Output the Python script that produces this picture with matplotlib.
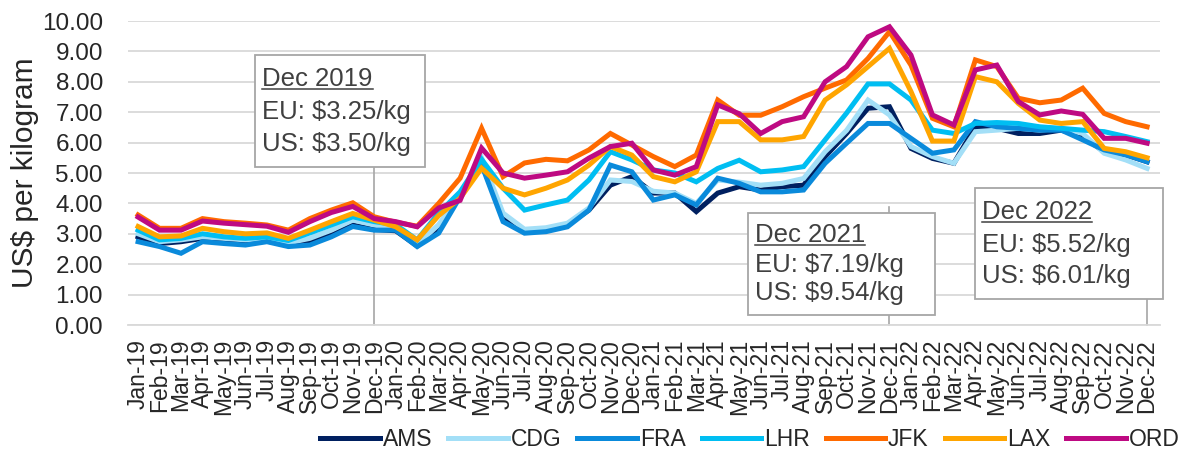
import numpy as np
import matplotlib
matplotlib.use("Agg")
import matplotlib.pyplot as plt
from matplotlib.lines import Line2D
from matplotlib.patches import Rectangle

plt.rcParams['font.family'] = ['Liberation Sans', 'DejaVu Sans']

# --- Data (US$ per kilogram, monthly Jan-19 .. Dec-22) ---
months = [f"{m}-{y}" for y in ["19", "20", "21", "22"]
          for m in ["Jan", "Feb", "Mar", "Apr", "May", "Jun",
                    "Jul", "Aug", "Sep", "Oct", "Nov", "Dec"]]

ams = [2.90, 2.68, 2.74, 2.85, 2.81, 2.74, 2.76, 2.63, 2.74, 2.96, 3.29, 3.14,
       3.10, 2.60, 3.20, 4.30, 5.30, 3.56, 3.07, 3.10, 3.29, 3.78, 4.60, 4.88,
       4.34, 4.34, 3.73, 4.34, 4.55, 4.44, 4.55, 4.60, 5.54, 6.30, 7.13, 7.18,
       5.81, 5.48, 5.32, 6.52, 6.47, 6.30, 6.30, 6.41, 6.20, 5.70, 5.60, 5.37]
cdg = [3.00, 2.74, 2.80, 2.90, 2.85, 2.80, 2.85, 2.70, 2.85, 3.12, 3.45, 3.29,
       3.15, 2.65, 3.30, 4.30, 5.50, 3.68, 3.15, 3.20, 3.35, 3.85, 4.77, 4.72,
       4.40, 4.34, 4.00, 4.77, 4.70, 4.60, 4.66, 4.82, 5.70, 6.40, 7.40, 6.91,
       5.87, 5.54, 5.32, 6.36, 6.41, 6.47, 6.41, 6.47, 6.30, 5.65, 5.43, 5.15]
fra = [2.74, 2.58, 2.36, 2.74, 2.68, 2.63, 2.74, 2.58, 2.63, 2.90, 3.24, 3.12,
       3.12, 2.58, 3.02, 4.22, 5.27, 3.40, 3.02, 3.07, 3.23, 3.78, 5.26, 5.04,
       4.11, 4.28, 3.95, 4.83, 4.66, 4.38, 4.38, 4.44, 5.32, 5.98, 6.63, 6.63,
       6.14, 5.65, 5.76, 6.69, 6.52, 6.47, 6.41, 6.41, 6.09, 5.76, 5.60, 5.37]
lhr = [3.12, 2.80, 2.85, 3.00, 2.90, 2.85, 2.90, 2.78, 3.03, 3.29, 3.56, 3.40,
       3.30, 2.80, 3.68, 4.38, 5.45, 4.50, 3.78, 3.95, 4.11, 4.77, 5.70, 5.43,
       5.10, 5.00, 4.71, 5.15, 5.42, 5.04, 5.10, 5.21, 6.09, 6.97, 7.93, 7.93,
       7.40, 6.41, 6.30, 6.63, 6.66, 6.63, 6.52, 6.47, 6.41, 6.36, 6.20, 6.03]
jfk = [3.62, 3.18, 3.18, 3.50, 3.40, 3.35, 3.29, 3.12, 3.50, 3.78, 4.02, 3.56,
       3.38, 3.25, 4.00, 4.83, 6.47, 4.88, 5.33, 5.45, 5.40, 5.76, 6.30, 5.92,
       5.54, 5.21, 5.59, 7.40, 6.90, 6.90, 7.18, 7.51, 7.79, 8.06, 8.77, 9.65,
       8.55, 6.80, 6.52, 8.72, 8.50, 7.46, 7.31, 7.40, 7.79, 6.96, 6.69, 6.52]
lax = [3.24, 2.90, 2.93, 3.18, 3.07, 3.00, 3.03, 2.85, 3.12, 3.40, 3.67, 3.45,
       3.23, 2.80, 3.60, 4.17, 5.16, 4.50, 4.28, 4.50, 4.77, 5.26, 5.87, 5.59,
       4.88, 4.71, 5.04, 6.69, 6.69, 6.09, 6.09, 6.20, 7.40, 7.90, 8.50, 9.10,
       7.68, 6.05, 6.05, 8.17, 8.00, 7.29, 6.74, 6.63, 6.69, 5.81, 5.70, 5.50]
ord_ = [3.55, 3.12, 3.12, 3.42, 3.35, 3.30, 3.25, 3.05, 3.40, 3.70, 3.90, 3.50,
        3.40, 3.23, 3.85, 4.10, 5.82, 5.00, 4.83, 4.93, 5.04, 5.49, 5.87, 5.98,
        5.10, 4.93, 5.21, 7.24, 6.95, 6.30, 6.69, 6.85, 8.00, 8.50, 9.48, 9.81,
        8.88, 6.91, 6.58, 8.39, 8.55, 7.35, 6.91, 7.04, 6.93, 6.14, 6.14, 5.98]

series_names = ["AMS", "CDG", "FRA", "LHR", "JFK", "LAX", "ORD"]
series_values = [ams, cdg, fra, lhr, jfk, lax, ord_]
series_colors = ["#002060", "#A3DFF7", "#0A8ADB", "#00BEF2",
                 "#FF6A00", "#FFA500", "#BE0A82"]

# annotation texts: (month index, title, EU, US)
notes = [(11, "Dec 2019", "EU: $3.25/kg", "US: $3.50/kg"),
         (35, "Dec 2021", "EU: $7.19/kg", "US: $9.54/kg"),
         (47, "Dec 2022", "EU: $5.52/kg", "US: $6.01/kg")]
# box extents in data units: (x0, x1, y0, y1, line_top)
boxes = [(5.45, 13.37, 5.20, 8.88, 5.20),
         (28.41, 37.12, 0.33, 3.68, 3.88),
         (38.98, 47.74, 0.86, 4.51, 0.86)]

# --- Figure ---
fig = plt.figure(figsize=(11.86, 4.53), dpi=100)
ax = fig.add_axes([128 / 1186, 1 - 325 / 453, (1160 - 128) / 1186, (325 - 21) / 453])

x = np.arange(len(months))
for name, vals, col in zip(series_names, series_values, series_colors):
    ax.plot(x, vals, color=col, lw=3.6, label=name, solid_joinstyle="miter", zorder=3)

ax.set_xlim(-0.47, 47.6)
ax.set_ylim(0, 10)
ax.set_yticks(np.arange(0, 11, 1))
ax.set_yticklabels([f"{v:.2f}" for v in range(11)])
ax.set_xticks(x)
ax.set_xticklabels(months, rotation=90)
ax.tick_params(axis="y", length=0, pad=18, labelsize=17.5, labelcolor="#262626")
ax.tick_params(axis="x", length=0, pad=10, labelsize=16.5, labelcolor="#262626")
ax.grid(axis="y", color="#D9D9D9", lw=1.3, zorder=0)
for s in ["top", "right", "left"]:
    ax.spines[s].set_visible(False)
ax.spines["bottom"].set_color("#D9D9D9")
ax.spines["bottom"].set_linewidth(1.3)
ax.set_ylabel("US$ per kilogram", fontsize=21.5, color="#262626", labelpad=2)

# --- Annotations ---
txt_col = "#404040"
underline_items = []
for (idx, title, eu, us), (bx0, bx1, by0, by1, ltop) in zip(notes, boxes):
    ax.plot([idx, idx], [0, ltop], color="#A6A6A6", lw=1.2, zorder=2, clip_on=False)
    ax.add_patch(Rectangle((bx0, by0), bx1 - bx0, by1 - by0, facecolor="white",
                           edgecolor="#A6A6A6", lw=1.3, zorder=5, clip_on=False))
    h = by1 - by0
    tx = bx0 + 0.33
    t = ax.text(tx, by1 - 0.28 * h, title, fontsize=18.5, color=txt_col,
                va="baseline", ha="left", zorder=6, clip_on=False)
    ax.text(tx, by1 - 0.575 * h, eu, fontsize=18.5, color=txt_col,
            va="baseline", ha="left", zorder=6, clip_on=False)
    ax.text(tx, by1 - 0.855 * h, us, fontsize=18.5, color=txt_col,
            va="baseline", ha="left", zorder=6, clip_on=False)
    underline_items.append((t, tx, by1 - 0.28 * h))

# --- Legend ---
fig.legend(loc="center", bbox_to_anchor=(750 / 1186, 1 - 440 / 453), ncol=7,
           frameon=False, fontsize=16.5, handlelength=2.6, handletextpad=0.12,
           columnspacing=0.7, labelcolor="#262626")

# underline the annotation titles
fig.canvas.draw()
r = fig.canvas.get_renderer()
inv = ax.transData.inverted()
for t, tx, ty in underline_items:
    bb = t.get_window_extent(r)
    x0d, _ = inv.transform((bb.x0, bb.y0))
    x1d, _ = inv.transform((bb.x1, bb.y0))
    ax.add_line(Line2D([x0d, x1d], [ty - 0.1, ty - 0.1], color=txt_col, lw=1.1,
                       zorder=7, clip_on=False))

fig.savefig("out.png", dpi=100)
